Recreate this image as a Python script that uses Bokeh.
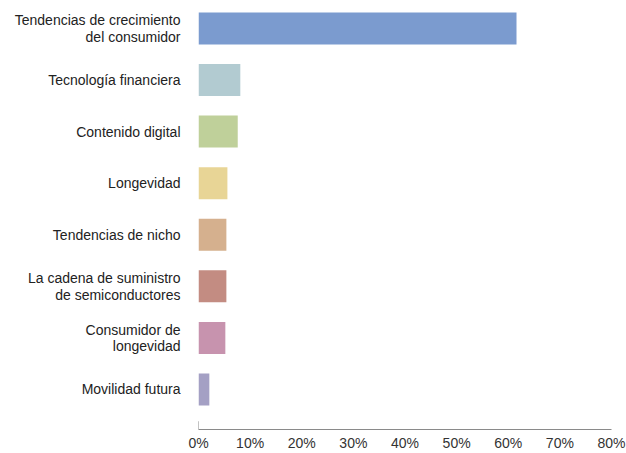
from bokeh.plotting import figure
from bokeh.models import Range1d, FixedTicker, PrintfTickFormatter, ColumnDataSource
from bokeh.embed import file_html
from bokeh.resources import INLINE

categories = [
    "Tendencias de crecimiento\ndel consumidor",
    "Tecnología financiera",
    "Contenido digital",
    "Longevidad",
    "Tendencias de nicho",
    "La cadena de suministro\nde semiconductores",
    "Consumidor de\nlongevidad",
    "Movilidad futura",
]
values = [61.6, 8.1, 7.6, 5.6, 5.4, 5.4, 5.2, 2.1]
colors = ["#7b9bcf", "#b2cbd1", "#bfd09a", "#e8d596", "#d5b08e", "#c38c82", "#c793ae", "#a4a0c4"]
x_ticks = [0, 10, 20, 30, 40, 50, 60, 70, 80]

pos = list(range(len(categories)))
src = ColumnDataSource(dict(y=pos, v=values, c=colors))

FONT = "Liberation Sans"
Y_BOTTOM = 7.776
Y_TOP = -0.387

p = figure(width=626, height=453, output_backend="svg", toolbar_location=None,
           x_range=Range1d(0, 80), y_range=Range1d(Y_BOTTOM, Y_TOP),
           min_border_left=198, min_border_right=15, min_border_top=8, min_border_bottom=23)
p.outline_line_color = None
p.xgrid.visible = False
p.ygrid.visible = False
p.background_fill_color = "white"

p.hbar(y="y", right="v", left=0, height=0.62, fill_color="c", line_color=None, source=src)

# small tick at 0
p.segment(x0=[0], x1=[0], y0=[Y_BOTTOM], y1=[Y_BOTTOM - 0.16], line_color="#888888", line_width=1)

xa = p.xaxis[0]
xa.ticker = FixedTicker(ticks=x_ticks)
xa.formatter = PrintfTickFormatter(format="%d%%")
xa.major_tick_in = 0
xa.major_tick_out = 0
xa.minor_tick_in = 0
xa.minor_tick_out = 0
xa.axis_line_color = "#8a8a8a"
xa.axis_line_width = 1
xa.major_label_standoff = 5
xa.major_label_text_font = FONT
xa.major_label_text_font_size = "14px"
xa.major_label_text_color = "#333333"

ya = p.yaxis[0]
ya.ticker = FixedTicker(ticks=pos)
ya.major_label_overrides = {i: c for i, c in zip(pos, categories)}
ya.major_tick_in = 0
ya.major_tick_out = 0
ya.minor_tick_in = 0
ya.minor_tick_out = 0
ya.axis_line_color = None
ya.major_label_standoff = 18
ya.major_label_text_font = FONT
ya.major_label_text_font_size = "14px"
ya.major_label_text_line_height = 1.05
ya.major_label_text_color = "#222222"

open("out.html", "w").write(file_html(p, INLINE))
